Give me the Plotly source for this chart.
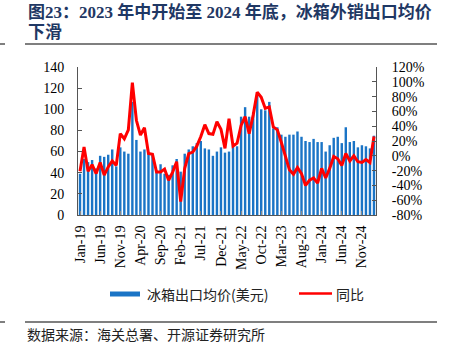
import plotly.graph_objects as go

# Monthly categories Jan-19 .. Feb-25
months = ["Jan-19","Feb-19","Mar-19","Apr-19","May-19","Jun-19","Jul-19","Aug-19","Sep-19","Oct-19","Nov-19","Dec-19",
          "Jan-20","Feb-20","Mar-20","Apr-20","May-20","Jun-20","Jul-20","Aug-20","Sep-20","Oct-20","Nov-20","Dec-20",
          "Jan-21","Feb-21","Mar-21","Apr-21","May-21","Jun-21","Jul-21","Aug-21","Sep-21","Oct-21","Nov-21","Dec-21",
          "Jan-22","Feb-22","Mar-22","Apr-22","May-22","Jun-22","Jul-22","Aug-22","Sep-22","Oct-22","Nov-22","Dec-22",
          "Jan-23","Feb-23","Mar-23","Apr-23","May-23","Jun-23","Jul-23","Aug-23","Sep-23","Oct-23","Nov-23","Dec-23",
          "Jan-24","Feb-24","Mar-24","Apr-24","May-24","Jun-24","Jul-24","Aug-24","Sep-24","Oct-24","Nov-24","Dec-24",
          "Jan-25","Feb-25"]

# Average export price of refrigerators (USD)
price = [39, 53, 50, 52, 44, 56, 55, 57, 62, 46,
         64, 60, 58, 107, 71, 60, 62, 58, 57, 42,
         48, 39, 38, 47, 53, 41, 58, 62, 65, 68,
         70, 63, 62, 56, 60, 64, 59, 60, 67, 65,
         93, 102, 93, 97, 114, 100, 99, 107, 82, 83,
         76, 74, 76, 76, 79, 74, 70, 69, 72, 69,
         69, 60, 66, 73, 74, 68, 83, 69, 70, 64,
         66, 65, 63, 75]

# Year-on-year change (%)
yoy = [-21, 12, -21, -12, -24, -9, -26, -15, -7, -13,
       30, 23, 35, 99, 48, 28, 38, 3, 2, -22,
       -22, -18, -33, -22, -8, -62, -17, 3, 5, 13,
       26, 42, 30, 29, 46, 36, 10, 50, 13, 17,
       41, 53, 30, 55, 86, 79, 64, 66, 39, 35,
       18, 1, -19, -25, -16, -24, -40, -33, -30, -37,
       -17, -30, -17, -1, -4, -13, 3, -7, 0, -8,
       -9, -5, -9, 26]

tick_labels = ["Jan-19","Jun-19","Nov-19","Apr-20","Sep-20","Feb-21","Jul-21","Dec-21",
               "May-22","Oct-22","Mar-23","Aug-23","Jan-24","Jun-24","Nov-24"]

left_ticks = [0, 20, 40, 60, 80, 100, 120, 140]
right_ticks = [-80, -60, -40, -20, 0, 20, 40, 60, 80, 100, 120]
right_tick_text = [f"{v}%" for v in right_ticks]

bar_name = "冰箱出口均价(美元)"
line_name = "同比"
title_line1 = "图23：2023 年中开始至 2024 年底，冰箱外销出口均价"
title_line2 = "下滑"
source_text = "数据来源：海关总署、开源证券研究所"

xs = list(range(len(months)))
tickvals = [months.index(t) for t in tick_labels]

BLUE = "#1a74c6"
RED = "#ff0000"
SERIF = "Liberation Serif, Times New Roman, serif"
CJK = "Noto Sans CJK SC, sans-serif"

fig = go.Figure()
fig.add_trace(go.Bar(x=xs, y=price, name=bar_name, marker=dict(color=BLUE, line=dict(width=0)),
                     width=0.6, yaxis="y"))
fig.add_trace(go.Scatter(x=xs, y=yoy, name=line_name, mode="lines",
                         line=dict(color=RED, width=3), yaxis="y2"))

# plot area pixel geometry helpers
L, R, T, B = 78, 376, 67, 215
def px_x(p):
    return (p - L) / (R - L)
def px_y(p):
    return (B - p) / (B - T)

fig.update_layout(
    width=452, height=354,
    margin=dict(l=L, r=452 - R, t=T, b=354 - B, pad=0),
    paper_bgcolor="white", plot_bgcolor="white",
    showlegend=False,
    xaxis=dict(range=[-0.5, len(months) - 0.5], tickmode="array", tickvals=tickvals, ticktext=tick_labels,
               tickangle=-90, tickfont=dict(family=SERIF, size=14, color="black"),
               showline=True, linecolor="#555555", linewidth=1,
               ticks="inside", ticklen=4, tickcolor="#888888", showgrid=False, zeroline=False,
               ticklabelstandoff=4),
    yaxis=dict(range=[0, 140], tickmode="array", tickvals=left_ticks,
               tickfont=dict(family=SERIF, size=14, color="black"),
               showline=True, linecolor="#555555", linewidth=1,
               ticks="inside", ticklen=4, tickcolor="#555555", showgrid=False, zeroline=False,
               ticklabelstandoff=10),
    yaxis2=dict(range=[-80, 120], tickmode="array", tickvals=right_ticks, ticktext=right_tick_text,
                overlaying="y", side="right",
                tickfont=dict(family=SERIF, size=14, color="black"),
                showline=True, linecolor="#555555", linewidth=1,
                ticks="inside", ticklen=4, tickcolor="#555555", showgrid=False, zeroline=False,
                ticklabelstandoff=12),
)

shapes = []
# horizontal rules
for y in (44, 322):
    shapes.append(dict(type="line", xref="paper", yref="paper", x0=px_x(25), x1=px_x(437),
                       y0=px_y(y), y1=px_y(y), line=dict(color="#7f7f7f", width=2)))
    shapes.append(dict(type="line", xref="paper", yref="paper", x0=px_x(0), x1=px_x(5),
                       y0=px_y(y), y1=px_y(y), line=dict(color="#7f7f7f", width=2)))
# legend swatches
shapes.append(dict(type="rect", xref="paper", yref="paper", x0=px_x(110), x1=px_x(140),
                   y0=px_y(296.5), y1=px_y(291.5), fillcolor=BLUE, line=dict(width=0)))
shapes.append(dict(type="line", xref="paper", yref="paper", x0=px_x(299), x1=px_x(332),
                   y0=px_y(293.5), y1=px_y(293.5), line=dict(color=RED, width=2.5)))
fig.update_layout(shapes=shapes)

TITLE_FONT = dict(family="Liberation Serif, Noto Sans CJK SC", size=17, color="#1f3864")
annotations = [
    dict(text="<b>" + title_line1 + "</b>", xref="paper", yref="paper", x=px_x(26), y=px_y(12),
         xanchor="left", yanchor="middle", align="left", showarrow=False, font=TITLE_FONT),
    dict(text="<b>" + title_line2 + "</b>", xref="paper", yref="paper", x=px_x(26), y=px_y(33),
         xanchor="left", yanchor="middle", align="left", showarrow=False, font=TITLE_FONT),
    dict(text=bar_name, xref="paper", yref="paper", x=px_x(145), y=px_y(294),
         xanchor="left", yanchor="middle", showarrow=False,
         font=dict(family=CJK, size=14, color="#222222")),
    dict(text=line_name, xref="paper", yref="paper", x=px_x(334), y=px_y(294),
         xanchor="left", yanchor="middle", showarrow=False,
         font=dict(family=CJK, size=14, color="#222222")),
    dict(text=source_text, xref="paper", yref="paper", x=px_x(25), y=px_y(334),
         xanchor="left", yanchor="middle", showarrow=False,
         font=dict(family=CJK, size=14, color="#222222")),
]
fig.update_layout(annotations=annotations)

fig.write_html("out.html")
